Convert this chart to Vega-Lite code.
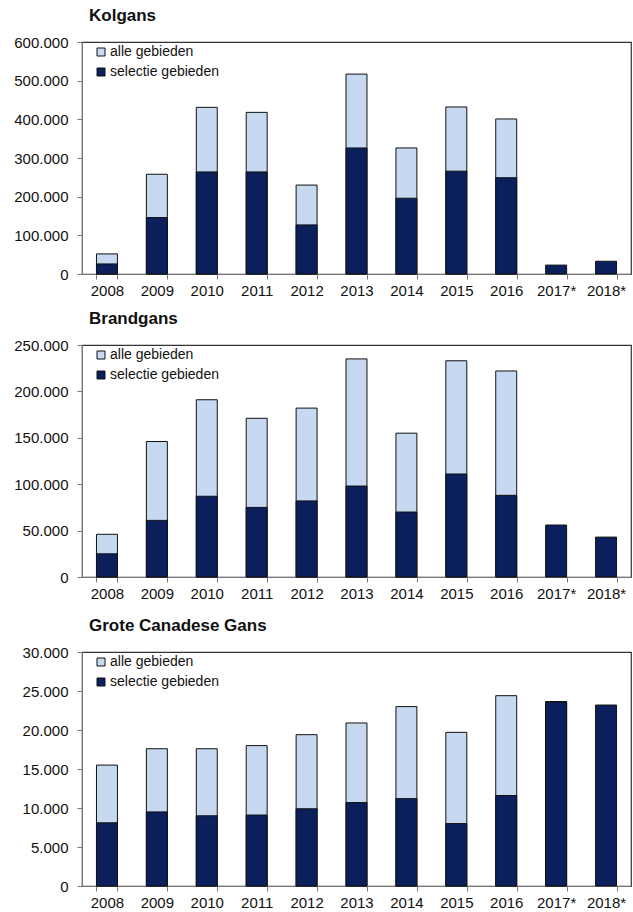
{
  "$schema": "https://vega.github.io/schema/vega-lite/v6.json",
  "padding": {"left": 13, "top": 6, "right": 2, "bottom": 2},
  "background": "white",
  "config": {
    "locale": {"number": {"decimal": ",", "thousands": ".", "grouping": [3], "currency": ["€", ""]}},
    "font": "Liberation Sans",
    "view": {"stroke": "#333", "strokeWidth": 1.2},
    "axis": {"labelFont": "Liberation Sans", "labelFontSize": 15, "labelColor": "#111", "domainColor": "#777", "tickColor": "#777", "tickSize": 5, "labelPadding": 9, "grid": false, "title": null},
    "axisX": {"labelPadding": 4},
    "legend": {"labelFont": "Liberation Sans", "labelFontSize": 14, "labelColor": "#111", "symbolType": "square", "symbolSize": 64, "symbolStrokeColor": "#111", "symbolStrokeWidth": 1, "rowPadding": 6, "padding": 0, "labelOffset": 2},
    "title": {"font": "Liberation Sans", "fontSize": 17, "fontWeight": "bold", "anchor": "start", "frame": "group", "color": "#111", "offset": 10, "dx": 7}
  },
  "data": {"values": [
    {"soort":"Kolgans","jaar":"2008","serie":"alle gebieden","aantal":52000},
    {"soort":"Kolgans","jaar":"2009","serie":"alle gebieden","aantal":258000},
    {"soort":"Kolgans","jaar":"2010","serie":"alle gebieden","aantal":431000},
    {"soort":"Kolgans","jaar":"2011","serie":"alle gebieden","aantal":418000},
    {"soort":"Kolgans","jaar":"2012","serie":"alle gebieden","aantal":230000},
    {"soort":"Kolgans","jaar":"2013","serie":"alle gebieden","aantal":517000},
    {"soort":"Kolgans","jaar":"2014","serie":"alle gebieden","aantal":326000},
    {"soort":"Kolgans","jaar":"2015","serie":"alle gebieden","aantal":432000},
    {"soort":"Kolgans","jaar":"2016","serie":"alle gebieden","aantal":401000},
    {"soort":"Kolgans","jaar":"2008","serie":"selectie gebieden","aantal":26000},
    {"soort":"Kolgans","jaar":"2009","serie":"selectie gebieden","aantal":146000},
    {"soort":"Kolgans","jaar":"2010","serie":"selectie gebieden","aantal":264000},
    {"soort":"Kolgans","jaar":"2011","serie":"selectie gebieden","aantal":264000},
    {"soort":"Kolgans","jaar":"2012","serie":"selectie gebieden","aantal":127000},
    {"soort":"Kolgans","jaar":"2013","serie":"selectie gebieden","aantal":326000},
    {"soort":"Kolgans","jaar":"2014","serie":"selectie gebieden","aantal":196000},
    {"soort":"Kolgans","jaar":"2015","serie":"selectie gebieden","aantal":266000},
    {"soort":"Kolgans","jaar":"2016","serie":"selectie gebieden","aantal":249000},
    {"soort":"Kolgans","jaar":"2017*","serie":"selectie gebieden","aantal":23000},
    {"soort":"Kolgans","jaar":"2018*","serie":"selectie gebieden","aantal":33000},
    {"soort":"Brandgans","jaar":"2008","serie":"alle gebieden","aantal":46000},
    {"soort":"Brandgans","jaar":"2009","serie":"alle gebieden","aantal":146000},
    {"soort":"Brandgans","jaar":"2010","serie":"alle gebieden","aantal":191000},
    {"soort":"Brandgans","jaar":"2011","serie":"alle gebieden","aantal":171000},
    {"soort":"Brandgans","jaar":"2012","serie":"alle gebieden","aantal":182000},
    {"soort":"Brandgans","jaar":"2013","serie":"alle gebieden","aantal":235000},
    {"soort":"Brandgans","jaar":"2014","serie":"alle gebieden","aantal":155000},
    {"soort":"Brandgans","jaar":"2015","serie":"alle gebieden","aantal":233000},
    {"soort":"Brandgans","jaar":"2016","serie":"alle gebieden","aantal":222000},
    {"soort":"Brandgans","jaar":"2008","serie":"selectie gebieden","aantal":25000},
    {"soort":"Brandgans","jaar":"2009","serie":"selectie gebieden","aantal":61000},
    {"soort":"Brandgans","jaar":"2010","serie":"selectie gebieden","aantal":87000},
    {"soort":"Brandgans","jaar":"2011","serie":"selectie gebieden","aantal":75000},
    {"soort":"Brandgans","jaar":"2012","serie":"selectie gebieden","aantal":82000},
    {"soort":"Brandgans","jaar":"2013","serie":"selectie gebieden","aantal":98000},
    {"soort":"Brandgans","jaar":"2014","serie":"selectie gebieden","aantal":70000},
    {"soort":"Brandgans","jaar":"2015","serie":"selectie gebieden","aantal":111000},
    {"soort":"Brandgans","jaar":"2016","serie":"selectie gebieden","aantal":88000},
    {"soort":"Brandgans","jaar":"2017*","serie":"selectie gebieden","aantal":56000},
    {"soort":"Brandgans","jaar":"2018*","serie":"selectie gebieden","aantal":43000},
    {"soort":"Grote Canadese Gans","jaar":"2008","serie":"alle gebieden","aantal":15500},
    {"soort":"Grote Canadese Gans","jaar":"2009","serie":"alle gebieden","aantal":17600},
    {"soort":"Grote Canadese Gans","jaar":"2010","serie":"alle gebieden","aantal":17600},
    {"soort":"Grote Canadese Gans","jaar":"2011","serie":"alle gebieden","aantal":18000},
    {"soort":"Grote Canadese Gans","jaar":"2012","serie":"alle gebieden","aantal":19400},
    {"soort":"Grote Canadese Gans","jaar":"2013","serie":"alle gebieden","aantal":20900},
    {"soort":"Grote Canadese Gans","jaar":"2014","serie":"alle gebieden","aantal":23000},
    {"soort":"Grote Canadese Gans","jaar":"2015","serie":"alle gebieden","aantal":19700},
    {"soort":"Grote Canadese Gans","jaar":"2016","serie":"alle gebieden","aantal":24400},
    {"soort":"Grote Canadese Gans","jaar":"2017*","serie":"alle gebieden","aantal":23650},
    {"soort":"Grote Canadese Gans","jaar":"2008","serie":"selectie gebieden","aantal":8100},
    {"soort":"Grote Canadese Gans","jaar":"2009","serie":"selectie gebieden","aantal":9500},
    {"soort":"Grote Canadese Gans","jaar":"2010","serie":"selectie gebieden","aantal":9000},
    {"soort":"Grote Canadese Gans","jaar":"2011","serie":"selectie gebieden","aantal":9100},
    {"soort":"Grote Canadese Gans","jaar":"2012","serie":"selectie gebieden","aantal":9900},
    {"soort":"Grote Canadese Gans","jaar":"2013","serie":"selectie gebieden","aantal":10700},
    {"soort":"Grote Canadese Gans","jaar":"2014","serie":"selectie gebieden","aantal":11200},
    {"soort":"Grote Canadese Gans","jaar":"2015","serie":"selectie gebieden","aantal":8000},
    {"soort":"Grote Canadese Gans","jaar":"2016","serie":"selectie gebieden","aantal":11600},
    {"soort":"Grote Canadese Gans","jaar":"2017*","serie":"selectie gebieden","aantal":23600},
    {"soort":"Grote Canadese Gans","jaar":"2018*","serie":"selectie gebieden","aantal":23200}
  ]},
  "spacing": 10,
  "vconcat": [
    {
      "title": "Kolgans",
      "width": 549, "height": 232,
      "transform": [{"filter": "datum.soort === 'Kolgans'"}],
      "mark": {"type": "bar", "stroke": "#111", "strokeWidth": 1},
      "encoding": {
        "x": {"field": "jaar", "type": "nominal", "sort": null, "scale": {"domain": ["2008","2009","2010","2011","2012","2013","2014","2015","2016","2017*","2018*"], "paddingInner": 0.58, "paddingOuter": 0.29}, "axis": {"labelAngle": 0, "tickBand": "extent"}},
        "y": {"field": "aantal", "type": "quantitative", "stack": null, "scale": {"domain": [0, 600000], "nice": false}, "axis": {"values": [0,100000,200000,300000,400000,500000,600000], "format": ",d"}},
        "color": {"field": "serie", "type": "nominal", "scale": {"domain": ["alle gebieden","selectie gebieden"], "range": ["#c6d9f1","#0b1f5c"]}, "legend": {"orient": "none", "legendX": 12, "legendY": 3, "title": null}},
        "order": {"field": "serie", "sort": "ascending"}
      }
    },
    {
      "title": "Brandgans",
      "width": 549, "height": 232,
      "transform": [{"filter": "datum.soort === 'Brandgans'"}],
      "mark": {"type": "bar", "stroke": "#111", "strokeWidth": 1},
      "encoding": {
        "x": {"field": "jaar", "type": "nominal", "sort": null, "scale": {"domain": ["2008","2009","2010","2011","2012","2013","2014","2015","2016","2017*","2018*"], "paddingInner": 0.58, "paddingOuter": 0.29}, "axis": {"labelAngle": 0, "tickBand": "extent", "title": " ", "titleFontSize": 4, "titlePadding": 0}},
        "y": {"field": "aantal", "type": "quantitative", "stack": null, "scale": {"domain": [0, 250000], "nice": false}, "axis": {"values": [0,50000,100000,150000,200000,250000], "format": ",d"}},
        "color": {"field": "serie", "type": "nominal", "scale": {"domain": ["alle gebieden","selectie gebieden"], "range": ["#c6d9f1","#0b1f5c"]}, "legend": {"orient": "none", "legendX": 12, "legendY": 3, "title": null}},
        "order": {"field": "serie", "sort": "ascending"}
      }
    },
    {
      "title": "Grote Canadese Gans",
      "width": 549, "height": 234,
      "transform": [{"filter": "datum.soort === 'Grote Canadese Gans'"}],
      "mark": {"type": "bar", "stroke": "#111", "strokeWidth": 1},
      "encoding": {
        "x": {"field": "jaar", "type": "nominal", "sort": null, "scale": {"domain": ["2008","2009","2010","2011","2012","2013","2014","2015","2016","2017*","2018*"], "paddingInner": 0.58, "paddingOuter": 0.29}, "axis": {"labelAngle": 0, "tickBand": "extent"}},
        "y": {"field": "aantal", "type": "quantitative", "stack": null, "scale": {"domain": [0, 30000], "nice": false}, "axis": {"values": [0,5000,10000,15000,20000,25000,30000], "format": ",d"}},
        "color": {"field": "serie", "type": "nominal", "scale": {"domain": ["alle gebieden","selectie gebieden"], "range": ["#c6d9f1","#0b1f5c"]}, "legend": {"orient": "none", "legendX": 12, "legendY": 3, "title": null}},
        "order": {"field": "serie", "sort": "ascending"}
      }
    }
  ],
  "resolve": {"scale": {"color": "independent", "x": "independent", "y": "independent"}, "legend": {"color": "independent"}}
}
